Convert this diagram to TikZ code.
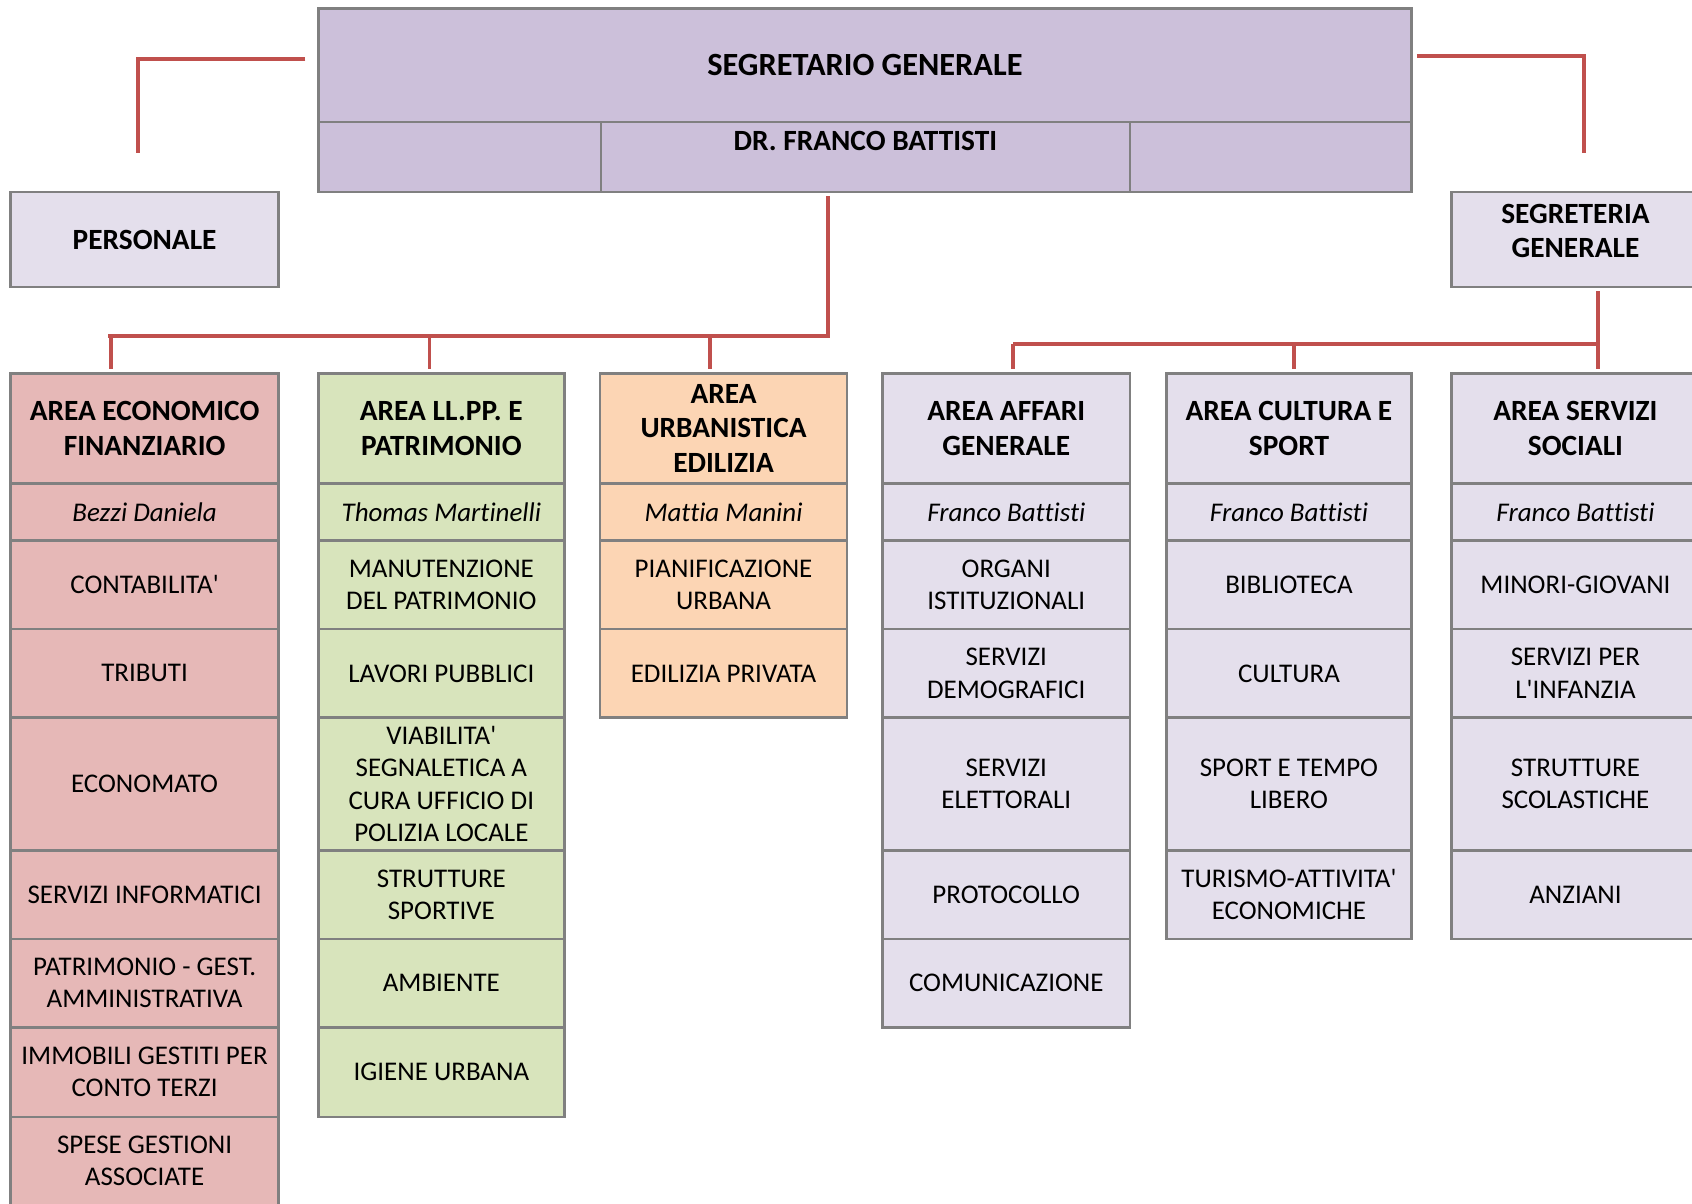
\documentclass[tikz,border=0pt]{standalone}
\usepackage{fontspec}
\setmainfont{Carlito}[Ligatures={TeX,NoCommon}]
\definecolor{lilac}{HTML}{CCC0DA}
\definecolor{lavender}{HTML}{E4DFEC}
\definecolor{rosy}{HTML}{E6B8B7}
\definecolor{sage}{HTML}{D8E4BC}
\definecolor{peach}{HTML}{FCD5B4}
\definecolor{framegray}{HTML}{808080}
\definecolor{linkred}{HTML}{C0504D}
\newcommand{\headfont}{\fontsize{13.6}{16}\selectfont\bfseries}
\newcommand{\cellfont}{\fontsize{12.5}{15}\selectfont}
\newcommand{\ap}{\textquotesingle}
\def\rowtop{{346,448,501,583,665,788,870,952,1035,1117}}

\begin{document}
\begin{tikzpicture}[x=0.5pt, y=-0.5pt,
  cell/.style={draw=framegray, line width=1.2pt, inner sep=0pt, outer sep=0pt, align=center, font=\cellfont},
  head/.style={font=\headfont},
  who/.style={font=\cellfont\itshape},
  chief/.style={font=\fontsize{15}{17}\selectfont\bfseries},
  tier/.code={\ifcase#1\relax\tikzset{head}\or\tikzset{who}\fi},
  link/.style={draw=linkred, line width=1.8pt}]
  \useasboundingbox (0,0) rectangle (1568,1115);
  \clip (0,0) rectangle (1568,1115);

  % top
  \node[cell, chief, fill=lilac, minimum width=506.5pt, minimum height=52.5pt] (segr) at (801.5,60.5) {SEGRETARIO GENERALE};
  \node[cell, fill=lilac, minimum width=131pt, minimum height=32.5pt] (dirl) at (426,145.5) {};
  \node[cell, fill=lilac, minimum width=245pt, minimum height=32.5pt] (dir) at (802,145.5) {};
  \node[cell, fill=lilac, minimum width=130.5pt, minimum height=32.5pt] (dirr) at (1177.5,145.5) {};
  \node[head] (dirname) at (802,131) {DR. FRANCO BATTISTI};
  \node[cell, head, fill=lavender, minimum width=124pt, minimum height=44pt] (pers) at (134,222) {PERSONALE};
  \node[cell, fill=lavender, minimum width=115pt, minimum height=44pt] (segrt) at (1460,222) {};
  \node[head, align=center] (segrtname) at (1460,214) {SEGRETERIA\\GENERALE};

  % areas
  \foreach \col/\cx/\cw/\cf/\items in {
    eco/134/248/rosy/{AREA ECONOMICO\\FINANZIARIO, Bezzi Daniela, CONTABILITA\ap, TRIBUTI, ECONOMATO, SERVIZI INFORMATICI, PATRIMONIO - GEST.\\AMMINISTRATIVA, IMMOBILI GESTITI PER\\CONTO TERZI, SPESE GESTIONI\\ASSOCIATE},
    llpp/409/228/sage/{AREA LL.PP. E\\PATRIMONIO, Thomas Martinelli, MANUTENZIONE\\DEL PATRIMONIO, LAVORI PUBBLICI, VIABILITA\ap\\SEGNALETICA A\\CURA UFFICIO DI\\POLIZIA LOCALE, STRUTTURE\\SPORTIVE, AMBIENTE, IGIENE URBANA},
    urb/670.5/229/peach/{AREA\\URBANISTICA\\EDILIZIA, Mattia Manini, PIANIFICAZIONE\\URBANA, EDILIZIA PRIVATA},
    aff/932.5/229/lavender/{AREA AFFARI\\GENERALE, Franco Battisti, ORGANI\\ISTITUZIONALI, SERVIZI\\DEMOGRAFICI, SERVIZI\\ELETTORALI, PROTOCOLLO, COMUNICAZIONE},
    cult/1194.5/227/lavender/{AREA CULTURA E\\SPORT, Franco Battisti, BIBLIOTECA, CULTURA, SPORT E TEMPO\\LIBERO, TURISMO-ATTIVITA\ap\\ECONOMICHE},
    soc/1460/230/lavender/{AREA SERVIZI\\SOCIALI, Franco Battisti, MINORI-GIOVANI, SERVIZI PER\\L\ap INFANZIA, STRUTTURE\\SCOLASTICHE, ANZIANI}}
    \foreach \txt [count=\r from 0] in \items {
      \pgfmathsetmacro\ya{\rowtop[\r]}
      \pgfmathsetmacro\yb{\rowtop[\r+1]}
      \node[cell, tier=\r, fill=\cf, minimum width=\cw*0.5pt, minimum height=(\yb-\ya)*0.5pt] (\col-\r) at (\cx,{(\ya+\yb)/2}) {\txt};
    }

  % links
  \coordinate (lbus) at (767,311);
  \coordinate (rbus) at (1481,319);
  \draw[link] ([shift={(-12,-5.5)}]segr.west) -| ([shift={(-6,-36)}]pers.north);
  \draw[link] ([shift={(5,-8.5)}]segr.east) -| ([shift={(8,-36)}]segrt.north);
  \draw[link] ([shift={(-35,4)}]dir.south) -- (lbus) -- ([shift={(-34,0)}]eco-0.north |- lbus);
  \foreach \a/\dx in {eco-0/-31, llpp-0/-11, urb-0/-12.5}
    \draw[link] ([shift={(\dx,0)}]\a.north |- lbus) -- ([shift={(\dx,-4)}]\a.north);
  \draw[link] ([shift={(21,4)}]segrt.south) -- ([shift={(21,-4)}]soc-0.north);
  \draw[link] (rbus) -- ([shift={(6.5,0)}]aff-0.north |- rbus);
  \foreach \a/\dx in {aff-0/6.5, cult-0/4.5}
    \draw[link] ([shift={(\dx,0)}]\a.north |- rbus) -- ([shift={(\dx,-4)}]\a.north);
\end{tikzpicture}
\end{document}
